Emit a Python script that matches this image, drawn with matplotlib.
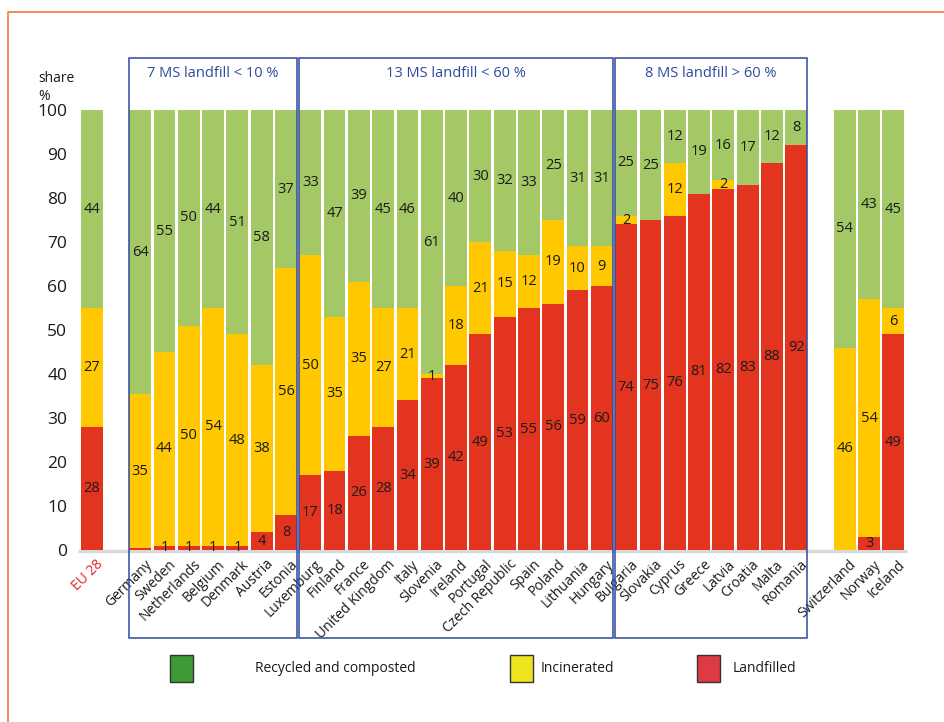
import matplotlib
matplotlib.use("Agg")
import matplotlib.pyplot as plt
from matplotlib.patches import Rectangle
from matplotlib.lines import Line2D
from matplotlib.transforms import ScaledTranslation

plt.rcParams['font.family'] = ['Open Sans', 'DejaVu Sans']

# ---------------------------------------------------------------
# data (shares in %)
# ---------------------------------------------------------------
eu_name = ['EU 28']
eu_recycled = [44]
eu_incinerated = [27]
eu_landfilled = [28]

ms_names = ['Germany', 'Sweden', 'Netherlands', 'Belgium', 'Denmark', 'Austria', 'Estonia',
            'Luxemburg', 'Finland', 'France', 'United Kingdom', 'Italy', 'Slovenia', 'Ireland',
            'Portugal', 'Czech Republic', 'Spain', 'Poland', 'Lithuania', 'Hungary',
            'Bulgaria', 'Slovakia', 'Cyprus', 'Greece', 'Latvia', 'Croatia', 'Malta', 'Romania']
ms_recycled = [64, 55, 50, 44, 51, 58, 37,
               33, 47, 39, 45, 46, 61, 40, 30, 32, 33, 25, 31, 31,
               25, 25, 12, 19, 16, 17, 12, 8]
ms_incinerated = [35, 44, 50, 54, 48, 38, 56,
                  50, 35, 35, 27, 21, 1, 18, 21, 15, 12, 19, 10, 9,
                  2, 0, 12, 0, 2, 0, 0, 0]
ms_landfilled = [0.4, 1, 1, 1, 1, 4, 8,
                 17, 18, 26, 28, 34, 39, 42, 49, 53, 55, 56, 59, 60,
                 74, 75, 76, 81, 82, 83, 88, 92]

efta_names = ['Switzerland', 'Norway', 'Iceland']
efta_recycled = [54, 43, 45]
efta_incinerated = [46, 54, 6]
efta_landfilled = [0, 3, 49]

group_titles = ['7 MS landfill < 10 %', '13 MS landfill < 60 %', '8 MS landfill > 60 %']
group_sizes = [7, 13, 8]

legend_labels = ['Recycled and composted', 'Incinerated', 'Landfilled']

# ---------------------------------------------------------------
c_rec = '#a5c866'
c_inc = '#ffc800'
c_lan = '#e33420'
c_box = '#2e4a9e'

names = eu_name + ms_names + efta_names
recycled = eu_recycled + ms_recycled + efta_recycled
incinerated = eu_incinerated + ms_incinerated + efta_incinerated
landfilled = eu_landfilled + ms_landfilled + efta_landfilled

# EU 28, gap, 28 member states, gap, 3 EFTA countries
pos = [0] + [2 + i for i in range(len(ms_names))] + [31 + i for i in range(len(efta_names))]

fig = plt.figure(figsize=(9.45, 7.22), dpi=100)
W, H = 945.0, 722.0
ax = fig.add_axes([77 / W, 1 - 550 / H, 831 / W, 440 / H])

bw = 0.9
for x, r, i, l in zip(pos, recycled, incinerated, landfilled):
    ax.bar(x, l, width=bw, color=c_lan, zorder=2)
    ax.bar(x, i, bottom=l, width=bw, color=c_inc, zorder=2)
    # share chart: recycled part fills the column up to 100 %
    ax.bar(x, 100 - l - i, bottom=l + i, width=bw, color=c_rec, zorder=2)
    for val, base, h in [(l, 0, l), (i, l, i), (r, l + i, 100 - l - i)]:
        if val >= 1:
            ax.text(x, base + h / 2, '%d' % val, ha='center', va='center',
                    fontsize=10.5, color='#1a1a1a', zorder=3)

# grey base line
ax.plot([-0.55, 33.55], [-0.3, -0.3], color='#d9d9d9', lw=2.5, zorder=1,
        solid_capstyle='butt', clip_on=False)

ax.set_xlim(-0.6, 33.6)
ax.set_ylim(0, 100)
for s in ax.spines.values():
    s.set_visible(False)

ax.set_yticks(range(0, 101, 10))
ax.tick_params(axis='y', length=0, pad=7, labelsize=12.5, labelcolor='#1a1a1a')

ax.set_xticks(pos)
ax.set_xticklabels(names, rotation=45, ha='right', rotation_mode='anchor', fontsize=10)
ax.tick_params(axis='x', length=0, pad=5, labelcolor='#1a1a1a')
off = ScaledTranslation(3 / 72, 0, fig.dpi_scale_trans)
for lab in ax.get_xticklabels():
    lab.set_transform(lab.get_transform() + off)
ax.get_xticklabels()[0].set_color('#e8232a')

# group boxes
start = 1.5
for title, n in zip(group_titles, group_sizes):
    x0, x1 = start + 0.04, start + n - 0.04
    ax.add_patch(Rectangle((x0, -20), x1 - x0, 131.8, fill=False, edgecolor=c_box,
                           lw=1.1, clip_on=False, zorder=4))
    ax.text((x0 + x1) / 2, 108.4, title, ha='center', va='center', fontsize=10.5,
            color=c_box, clip_on=False)
    start += n

fig.text(38 / W, 1 - 78 / H, 'share', fontsize=10, va='center', ha='left', color='#1a1a1a')
fig.text(38 / W, 1 - 97 / H, '%', fontsize=10, va='center', ha='left', color='#1a1a1a')

# orange frame
fig.add_artist(Line2D([8 / W, 8 / W, 1.0], [0, 1 - 12 / H, 1 - 12 / H],
                      transform=fig.transFigure, color='#f07a3a', lw=1.2))

# legend
leg_colors = ['#3d9a35', '#ede41e', '#dd3a41']
sq_x = [170, 510, 697]
txt_x = [255, 541, 733]
for lab, col, sx, tx in zip(legend_labels, leg_colors, sq_x, txt_x):
    fig.add_artist(Rectangle((sx / W, 1 - 682 / H), 23 / W, 27 / H, transform=fig.transFigure,
                             facecolor=col, edgecolor='#333333', lw=1))
    fig.text(tx / W, 1 - 668 / H, lab, fontsize=10, va='center', ha='left', color='#1a1a1a')

plt.savefig('out.png', dpi=100)
